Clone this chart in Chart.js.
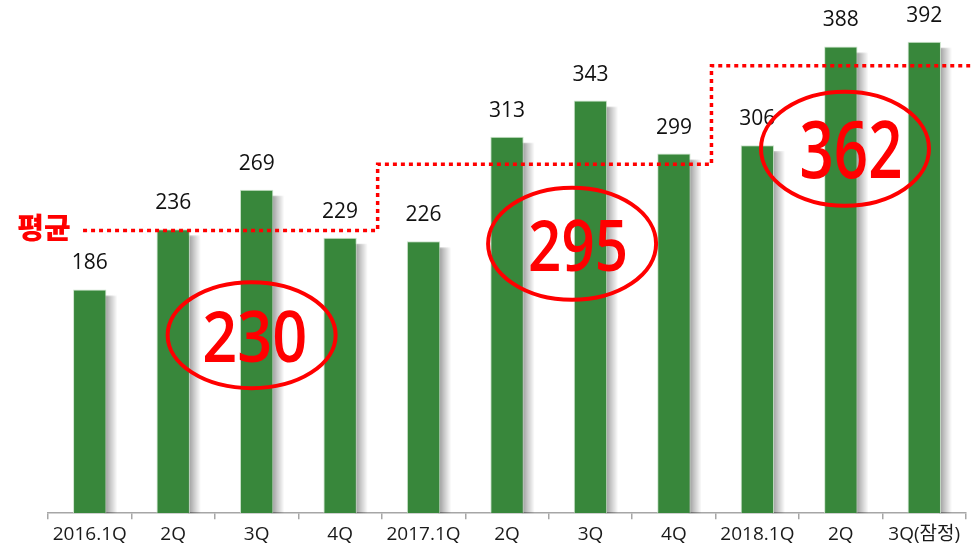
<!DOCTYPE html>
<html><head><meta charset="utf-8">
<script src="https://cdn.jsdelivr.net/npm/chart.js@4"></script>
<style>html,body{margin:0;padding:0;background:#fff}#wrap{width:975px;height:555px}</style>
</head><body><div id="wrap"><canvas id="c" width="975" height="555"></canvas></div>
<script>
// ---- data ----
const categories = ['2016.1Q','2Q','3Q','4Q','2017.1Q','2Q','3Q','4Q','2018.1Q','2Q','3Q(잠정)'];
const values = [186,236,269,229,226,313,343,299,306,388,392];
const avgGroups = [[0,3],[4,7],[8,10]];
const avgLineLevels = [235,290,372];
const avgLabels = ['230','295','362'];
const avgMarkerX = [1.94,5.78,9.05];
const avgMarkerY = [148,224,303];
const avgTitle = '평균';

const FONT = '"Open Sans","Noto Sans CJK KR",sans-serif';
const RED = '#ff0000';

// build step line points from groups
const stepPts = [];
avgGroups.forEach((g, i) => {
  const x0 = i === 0 ? g[0] - 0.08 : g[0] - 0.55;
  const x1 = i === avgGroups.length - 1 ? g[1] + 0.55 : g[1] + 0.45;
  stepPts.push({x: x0, y: avgLineLevels[i]});
  stepPts.push({x: x1, y: avgLineLevels[i]});
});

const markerStyle = [
  {rx: 84, ry: 53, dx: 3, dy: 2, tw: 105, th: 50},
  {rx: 84, ry: 56, dx: 6, dy: 2, tw: 100, th: 50},
  {rx: 84, ry: 57, dx: 6, dy: 1, tw: 103, th: 57}
];

// soft gray shadow to the right of each bar
const shadowPlugin = {
  id: 'barShadow',
  beforeDatasetDraw(chart, args) {
    if (args.index !== 0) return;
    const ctx = chart.ctx;
    const meta = chart.getDatasetMeta(0);
    ctx.save();
    meta.data.forEach(bar => {
      const right = bar.x + bar.width / 2;
      const top = bar.y;
      const bottom = bar.base;
      const sw = 11;
      const g = ctx.createLinearGradient(right - 2, 0, right + sw, 0);
      g.addColorStop(0, 'rgba(0,0,0,0.42)');
      g.addColorStop(0.45, 'rgba(0,0,0,0.22)');
      g.addColorStop(1, 'rgba(0,0,0,0)');
      ctx.fillStyle = g;
      ctx.fillRect(right - 2, top + 6, sw + 2, bottom - top - 6);
      // soft top fade
      const g2 = ctx.createLinearGradient(0, top + 1, 0, top + 8);
      g2.addColorStop(0, 'rgba(255,255,255,1)');
      g2.addColorStop(1, 'rgba(255,255,255,0)');
      ctx.fillStyle = g2;
      ctx.fillRect(right - 2, top + 5, sw + 2, 4);
    });
    ctx.restore();
  }
};

const labelPlugin = {
  id: 'labels',
  afterDatasetsDraw(chart) {
    const ctx = chart.ctx;
    const meta = chart.getDatasetMeta(0);
    ctx.save();
    ctx.font = '21px ' + FONT;
    ctx.fillStyle = '#111';
    ctx.textAlign = 'center';
    ctx.textBaseline = 'middle';
    meta.data.forEach((bar, i) => {
      ctx.fillText(String(values[i]), bar.x, bar.y - 26);
    });
    ctx.restore();
  },
  afterDraw(chart) {
    const ctx = chart.ctx;
    const xs = chart.scales.xl, ys = chart.scales.y;
    ctx.save();
    // 평균 title
    ctx.font = '900 29px "Noto Sans CJK KR",sans-serif';
    ctx.fillStyle = RED;
    ctx.textAlign = 'center';
    ctx.textBaseline = 'middle';
    ctx.fillText(avgTitle, 44, ys.getPixelForValue(avgLineLevels[0]) - 3);
    // ellipses + numbers
    avgLabels.forEach((lab, i) => {
      const s = markerStyle[i];
      const cx = xs.getPixelForValue(avgMarkerX[i]);
      const cy = ys.getPixelForValue(avgMarkerY[i]);
      ctx.beginPath();
      ctx.ellipse(cx, cy, s.rx, s.ry, 0, 0, Math.PI * 2);
      ctx.lineWidth = 4;
      ctx.strokeStyle = RED;
      ctx.stroke();
      const fs = 60;
      ctx.font = '600 ' + fs + 'px "Open Sans",sans-serif';
      const w = ctx.measureText(lab).width;
      const h = fs * 0.714;
      ctx.save();
      ctx.translate(cx + s.dx, cy + s.dy);
      ctx.scale(s.tw / w, s.th / h);
      ctx.textAlign = 'center';
      ctx.textBaseline = 'alphabetic';
      ctx.fillStyle = RED;
      ctx.fillText(lab, 0, h / 2);
      ctx.restore();
    });
    ctx.restore();
  }
};

new Chart(document.getElementById('c'), {
  type: 'bar',
  data: {
    labels: categories,
    datasets: [
      {
        type: 'bar',
        data: values,
        backgroundColor: '#38873b',
        borderColor: 'rgba(200,225,200,0.9)',
        borderWidth: 1,
        barPercentage: 0.4,
        categoryPercentage: 1,
        grouped: false,
        order: 2
      },
      {
        type: 'line',
        data: stepPts,
        xAxisID: 'xl',
        yAxisID: 'y',
        borderColor: RED,
        borderWidth: 3.5,
        borderDash: [4, 4],
        pointRadius: 0,
        fill: false,
        tension: 0,
        clip: false,
        order: 1
      }
    ]
  },
  options: {
    responsive: false,
    animation: false,
    events: [],
    layout: {padding: {top: 8, left: 48, right: 9, bottom: 5}},
    plugins: {legend: {display: false}, tooltip: {enabled: false}},
    scales: {
      x: {
        type: 'category',
        offset: true,
        grid: {offset: true, drawOnChartArea: false, drawTicks: true, tickLength: 6, color: '#a6a6a6', lineWidth: 1.5},
        border: {display: true, color: '#a6a6a6', width: 1.5},
        ticks: {font: {family: FONT, size: 19}, color: '#1a1a1a', padding: 4, maxRotation: 0, autoSkip: false}
      },
      xl: {type: 'linear', display: false, offset: false, min: -0.5, max: 10.5},
      y: {display: false, min: 0, max: 420}
    }
  },
  plugins: [shadowPlugin, labelPlugin]
});
</script>
</body></html>
